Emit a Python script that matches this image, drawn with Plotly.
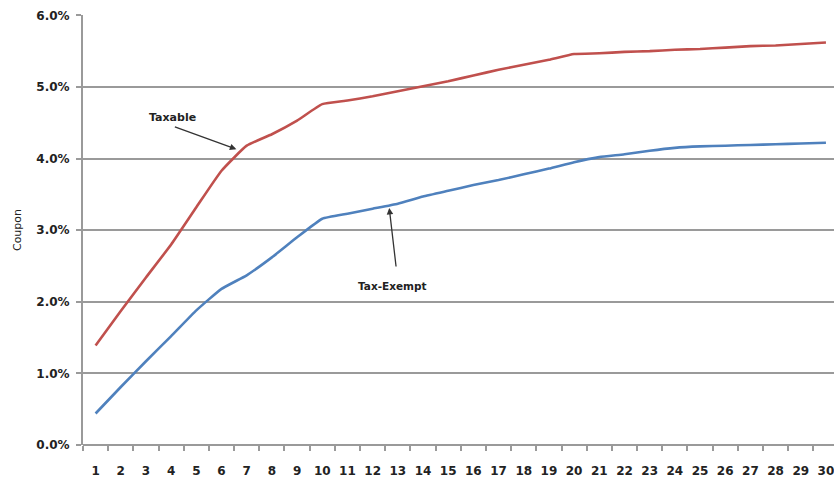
import plotly.graph_objects as go

maturity = list(range(1, 31))
taxable = [1.39, 1.87, 2.34, 2.80, 3.32, 3.83, 4.18, 4.34, 4.53, 4.76,
           4.81, 4.87, 4.94, 5.01, 5.08, 5.16, 5.24, 5.31, 5.38, 5.46,
           5.47, 5.49, 5.50, 5.52, 5.53, 5.55, 5.57, 5.58, 5.60, 5.62]
tax_exempt = [0.44, 0.81, 1.17, 1.52, 1.88, 2.18, 2.37, 2.62, 2.90, 3.16,
              3.23, 3.30, 3.37, 3.47, 3.55, 3.63, 3.70, 3.78, 3.86, 3.95,
              4.02, 4.06, 4.11, 4.15, 4.17, 4.18, 4.19, 4.20, 4.21, 4.22]
y_ticks = [0, 1, 2, 3, 4, 5, 6]

RED = "#C0504D"
BLUE = "#4F81BD"
GRID = "#9a9a9a"
FONT = "DejaVu Sans"

fig = go.Figure()
fig.add_trace(go.Scatter(x=maturity, y=taxable, mode="lines", name="Taxable",
                         line=dict(color=RED, width=2.6, shape="spline", smoothing=0.4)))
fig.add_trace(go.Scatter(x=maturity, y=tax_exempt, mode="lines", name="Tax-Exempt",
                         line=dict(color=BLUE, width=2.6, shape="spline", smoothing=0.4)))

fig.update_layout(
    width=834, height=481,
    margin=dict(l=83, r=0, t=15, b=36),
    paper_bgcolor="white", plot_bgcolor="white",
    showlegend=False,
    font=dict(family=FONT, color="#222"),
)
fig.update_xaxes(
    range=[0.5, 30.32],
    tickvals=maturity, ticktext=[str(m) for m in maturity],
    ticks="", showgrid=False, zeroline=False,
    showline=False,
    tickfont=dict(family=FONT, size=12, weight="bold", color="#222"),
    ticklabelstandoff=17,
    ticklabeloverflow="allow",
    minor=dict(tickvals=[m + 0.5 for m in range(0, 31)], ticks="outside",
               ticklen=5, tickwidth=1.5, tickcolor=GRID, showgrid=False),
)
fig.update_yaxes(
    range=[0, 6.005],
    tickvals=y_ticks, ticktext=[f"{v:.1f}%" for v in y_ticks],
    showgrid=True, gridcolor=GRID, gridwidth=1.5,
    zeroline=True, zerolinecolor=GRID, zerolinewidth=2,
    showline=True, linecolor=GRID, linewidth=2,
    ticks="outside", ticklen=5, tickwidth=1.5, tickcolor=GRID,
    tickfont=dict(family=FONT, size=12, weight="bold", color="#222"),
    ticklabelstandoff=4,
    title=dict(text="Coupon", font=dict(family=FONT, size=11, color="#222"), standoff=12),
)

# Taxable label and arrow
fig.add_annotation(x=4.07, y=4.58, text="Taxable", showarrow=False,
                   font=dict(family=FONT, size=11, weight="bold", color="#222"))
fig.add_annotation(x=6.59, y=4.13, text="", showarrow=True, ax=-63, ay=-23,
                   arrowhead=2, arrowsize=1, arrowwidth=1.3, arrowcolor="#333")
# Tax-Exempt label and arrow
fig.add_annotation(x=12.77, y=2.215, text="Tax-Exempt", showarrow=False,
                   font=dict(family=FONT, size=10.5, weight="bold", color="#222"))
fig.add_annotation(x=12.66, y=3.31, text="", showarrow=True, ax=7, ay=60,
                   arrowhead=2, arrowsize=1, arrowwidth=1.3, arrowcolor="#333")

fig.write_html("out.html")
